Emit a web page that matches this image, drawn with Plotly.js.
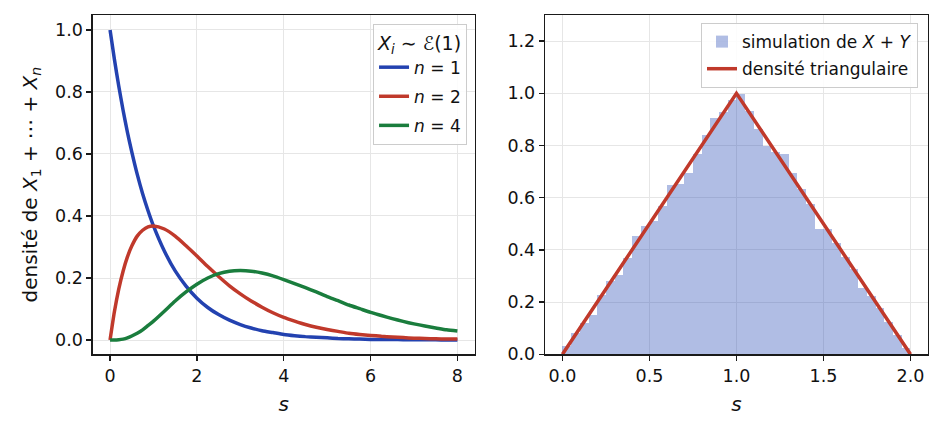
<!DOCTYPE html>
<html>
<head>
<meta charset="utf-8">
<script src="https://cdn.plot.ly/plotly-3.0.1.min.js"></script>
<style>
  html, body { margin: 0; padding: 0; background: #fff; }
  #myChart { width: 942px; height: 435px; }
</style>
</head>
<body>
<div id="myChart"></div>
<script>
// left panel: densities of X1+...+Xn, Xi ~ Exp(1)
var sGrid = [0, 0.1, 0.2, 0.3, 0.4, 0.5, 0.625, 0.75, 0.875, 1, 1.25, 1.5, 1.75, 2, 2.25, 2.5, 2.75,
             3, 3.25, 3.5, 3.75, 4, 4.25, 4.5, 4.75, 5, 5.25, 5.5, 5.75, 6, 6.25, 6.5, 6.75,
             7, 7.25, 7.5, 7.75, 8];
var densN1 = [1.000, 0.905, 0.819, 0.741, 0.670, 0.607, 0.535, 0.472, 0.417, 0.368, 0.287, 0.223,
              0.174, 0.135, 0.105, 0.082, 0.064, 0.050, 0.039, 0.030, 0.024, 0.018, 0.014, 0.011,
              0.009, 0.007, 0.005, 0.004, 0.003, 0.002, 0.002, 0.002, 0.001, 0.001, 0.001, 0.001,
              0.000, 0.000];
var densN2 = [0.000, 0.091, 0.164, 0.222, 0.268, 0.303, 0.335, 0.354, 0.365, 0.368, 0.358, 0.335,
              0.304, 0.271, 0.237, 0.205, 0.175, 0.149, 0.126, 0.106, 0.088, 0.073, 0.061, 0.050,
              0.041, 0.034, 0.028, 0.022, 0.018, 0.015, 0.012, 0.010, 0.008, 0.006, 0.005, 0.004,
              0.003, 0.003];
var densN4 = [0.000, 0.000, 0.001, 0.003, 0.007, 0.013, 0.022, 0.033, 0.047, 0.061, 0.093, 0.126,
              0.155, 0.180, 0.200, 0.214, 0.222, 0.224, 0.222, 0.216, 0.207, 0.195, 0.182, 0.169,
              0.155, 0.140, 0.127, 0.113, 0.101, 0.089, 0.079, 0.069, 0.060, 0.052, 0.045, 0.039,
              0.033, 0.029];
var curveLabels = ['<i>n</i> = 1', '<i>n</i> = 2', '<i>n</i> = 4'];
var curveColours = ['#2342b0', '#c0392b', '#1a7d3d'];

// right panel: histogram of X+Y (bins of width 0.05) and triangular density
var binCenters = [0.025, 0.075, 0.125, 0.175, 0.225, 0.275, 0.325, 0.375, 0.425, 0.475,
                  0.525, 0.575, 0.625, 0.675, 0.725, 0.775, 0.825, 0.875, 0.925, 0.975,
                  1.025, 1.075, 1.125, 1.175, 1.225, 1.275, 1.325, 1.375, 1.425, 1.475,
                  1.525, 1.575, 1.625, 1.675, 1.725, 1.775, 1.825, 1.875, 1.925, 1.975];
var binHeights = [0.030, 0.082, 0.120, 0.150, 0.227, 0.280, 0.304, 0.370, 0.454, 0.492,
                  0.510, 0.568, 0.647, 0.654, 0.696, 0.767, 0.841, 0.904, 0.927, 0.974,
                  0.997, 0.931, 0.863, 0.800, 0.776, 0.767, 0.696, 0.635, 0.574, 0.482,
                  0.479, 0.426, 0.371, 0.326, 0.253, 0.223, 0.176, 0.124, 0.073, 0.025];
var triX = [0, 1, 2];
var triY = [0, 1, 0];

var data = [];
var series = [densN1, densN2, densN4];
for (let i = 0; i < series.length; i++) {
  data.push({
    x: sGrid,
    y: series[i],
    name: curveLabels[i],
    type: 'scatter',
    mode: 'lines',
    line: {color: curveColours[i], width: 3.5, shape: 'spline', smoothing: 0.6},
    xaxis: 'x', yaxis: 'y',
    legend: 'legend',
    legendgroup: 'g' + i,
    hoverinfo: 'skip'
  });
}
data.push({
  x: binCenters,
  y: binHeights,
  name: 'simulation de <i>X</i> + <i>Y</i>',
  type: 'bar',
  width: 0.05,
  marker: {color: 'rgba(36,72,180,0.36)', line: {width: 0}},
  xaxis: 'x2', yaxis: 'y2',
  legend: 'legend2',
  legendgroup: 'h1',
  hoverinfo: 'skip'
});
data.push({
  x: triX,
  y: triY,
  name: 'densité triangulaire',
  type: 'scatter',
  mode: 'lines',
  line: {color: '#c0392b', width: 3.5},
  xaxis: 'x2', yaxis: 'y2',
  legend: 'legend2',
  legendgroup: 'h2',
  hoverinfo: 'skip'
});

var axisCommon = {
  showline: true, mirror: true, linecolor: '#1a1a1a', linewidth: 1.3,
  ticks: 'outside', ticklen: 5, tickwidth: 1.3, tickcolor: '#1a1a1a',
  showgrid: true, gridcolor: '#e6e6e6', gridwidth: 1,
  zeroline: false,
  tickfont: {size: 17.5, color: '#111'}
};

var layout = {
  width: 942, height: 435,
  font: {family: 'DejaVu Sans', size: 17, color: '#111'},
  paper_bgcolor: '#fff', plot_bgcolor: '#fff',
  margin: {l: 0, r: 0, t: 0, b: 0},
  bargap: 0,
  xaxis: Object.assign({}, axisCommon, {
    domain: [0.0984, 0.504], range: [-0.4, 8.4],
    tickvals: [0, 2, 4, 6, 8],
    title: {text: '<i>s</i>', standoff: 12}
  }),
  yaxis: Object.assign({}, axisCommon, {
    domain: [0.1855, 0.9655], range: [-0.046, 1.048],
    tickvals: [0, 0.2, 0.4, 0.6, 0.8, 1.0], tickformat: '.1f',
    title: {text: 'densité de <i>X</i><sub>1</sub> + ⋯ + <i>X<sub>n</sub></i>', standoff: 12}
  }),
  xaxis2: Object.assign({}, axisCommon, {
    domain: [0.5786, 0.985], range: [-0.1, 2.1], anchor: 'y2',
    tickvals: [0, 0.5, 1, 1.5, 2], tickformat: '.1f',
    title: {text: '<i>s</i>', standoff: 12}
  }),
  yaxis2: Object.assign({}, axisCommon, {
    domain: [0.1855, 0.9655], range: [0, 1.3], anchor: 'x2',
    tickvals: [0, 0.2, 0.4, 0.6, 0.8, 1.0, 1.2], tickformat: '.1f'
  }),
  legend: {
    x: 0.4958, xanchor: 'right', y: 0.945, yanchor: 'top',
    bgcolor: 'rgba(255,255,255,0.85)', bordercolor: '#cccccc', borderwidth: 1,
    font: {size: 17, color: '#111'},
    tracegroupgap: 4,
    title: {text: '<i>X<sub>i</sub></i> ∼ ℰ(1)', side: 'top center', font: {size: 19}}
  },
  legend2: {
    x: 0.9745, xanchor: 'right', y: 0.947, yanchor: 'top',
    bgcolor: 'rgba(255,255,255,0.85)', bordercolor: '#cccccc', borderwidth: 1,
    font: {size: 17, color: '#111'},
    tracegroupgap: 2
  },
  showlegend: true
};

Plotly.newPlot('myChart', data, layout, {displayModeBar: false, responsive: false, staticPlot: true});
</script>
</body>
</html>
